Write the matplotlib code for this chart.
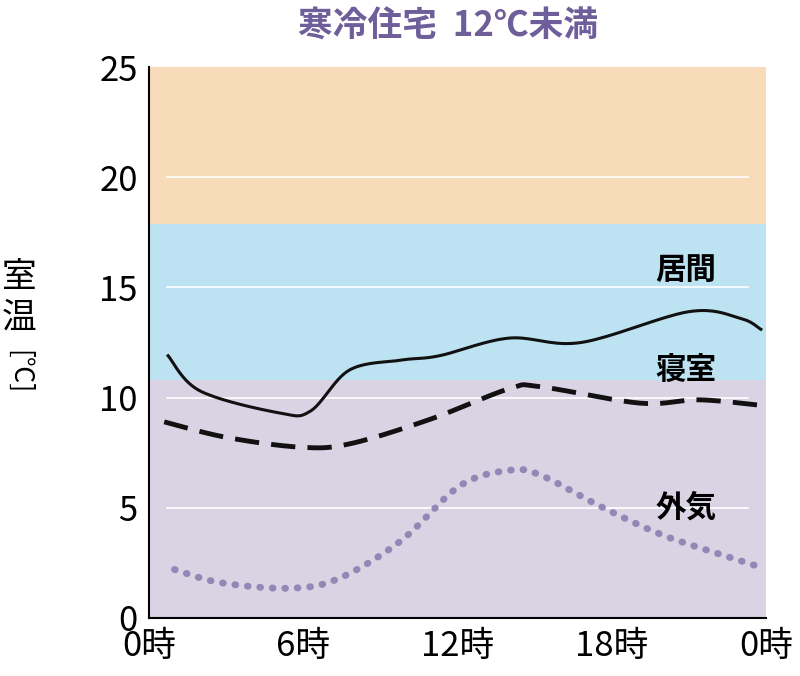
import matplotlib.pyplot as plt
import numpy as np

plt.rcParams['font.family'] = ['Noto Sans CJK JP', 'DejaVu Sans']

# data (hour, temperature)
living_h = [0.75, 2.0, 5.1, 6.3, 7.8, 9.8, 11.3, 14.0, 16.8, 21.0, 23.0, 23.8]
living_t = [11.9, 10.3, 9.3, 9.4, 11.25, 11.7, 11.9, 12.7, 12.5, 13.9, 13.6, 13.1]
bed_h = [0.6, 3.0, 5.9, 7.8, 10.9, 14.0, 15.2, 19.1, 21.4, 23.8]
bed_t = [8.9, 8.2, 7.75, 7.9, 9.0, 10.4, 10.5, 9.75, 9.9, 9.65]
out_h = [1.0, 2.8, 5.5, 7.4, 9.8, 12.1, 14.0, 15.2, 17.5, 19.9, 22.2, 23.8]
out_t = [2.2, 1.6, 1.35, 1.8, 3.5, 6.0, 6.7, 6.5, 5.1, 3.8, 2.9, 2.3]
x_ticks = [0, 6, 12, 18, 24]
x_labels = ['0時', '6時', '12時', '18時', '0時']
bands = [(0, 10.8, '#d9d3e4'), (10.8, 17.9, '#bde3f2'), (17.9, 25, '#f8dbb8')]


def smooth(xs, ys, n=20):
    # catmull-rom through the read points
    p = np.column_stack([xs, ys])
    p = np.vstack([p[0], p, p[-1]])
    out = []
    for i in range(1, len(p) - 2):
        p0, p1, p2, p3 = p[i - 1], p[i], p[i + 1], p[i + 2]
        for t in np.linspace(0, 1, n, endpoint=False):
            out.append(0.5 * (2 * p1 + (-p0 + p2) * t
                              + (2 * p0 - 5 * p1 + 4 * p2 - p3) * t ** 2
                              + (-p0 + 3 * p1 - 3 * p2 + p3) * t ** 3))
    out.append(p[-2])
    out = np.array(out)
    return out[:, 0], out[:, 1]


fig = plt.figure(figsize=(8, 6.76), dpi=100)
ax = fig.add_axes([0.186, 0.0858, 0.7715, 0.815])
for lo, hi, c in bands:
    ax.axhspan(lo, hi, color=c, lw=0, zorder=0)
for g in [5, 10, 15, 20]:
    ax.plot([0.7, 23.3], [g, g], color='white', lw=1.2, zorder=1)

ax.plot(*smooth(living_h, living_t), color='#111111', lw=2.2, zorder=3)
ax.plot(*smooth(bed_h, bed_t), color='#111111', lw=3.5, dashes=(5, 2.5), zorder=3)
ax.plot(*smooth(out_h, out_t), color='#9088b5', lw=5, linestyle=(0, (0.1, 1.7)),
        dash_capstyle='round', zorder=3)

for txt, y in [('居間', 15.8), ('寝室', 11.2), ('外気', 5.0)]:
    ax.text(20.9, y, txt, fontsize=22, fontweight='bold', ha='center', va='center')

ax.set_xlim(0, 24)
ax.set_ylim(0, 25)
ax.set_xticks(x_ticks)
ax.set_xticklabels(x_labels)
ax.set_yticks([0, 5, 10, 15, 20, 25])
ax.tick_params(length=0, labelsize=25, pad=8)
for s in ['top', 'right']:
    ax.spines[s].set_visible(False)
ax.spines['left'].set_linewidth(1.5)
ax.spines['bottom'].set_linewidth(1.5)

fig.text(0.56, 0.962, '寒冷住宅  12℃未満', fontsize=25, fontweight='bold',
         color='#6e5f9a', ha='center', va='center')
fig.text(0.024, 0.59, '室', fontsize=25, ha='center', va='center')
fig.text(0.024, 0.53, '温', fontsize=25, ha='center', va='center')
fig.text(0.024, 0.45, '[℃]', fontsize=19, rotation=-90, ha='center', va='center')

fig.savefig('out.png')
